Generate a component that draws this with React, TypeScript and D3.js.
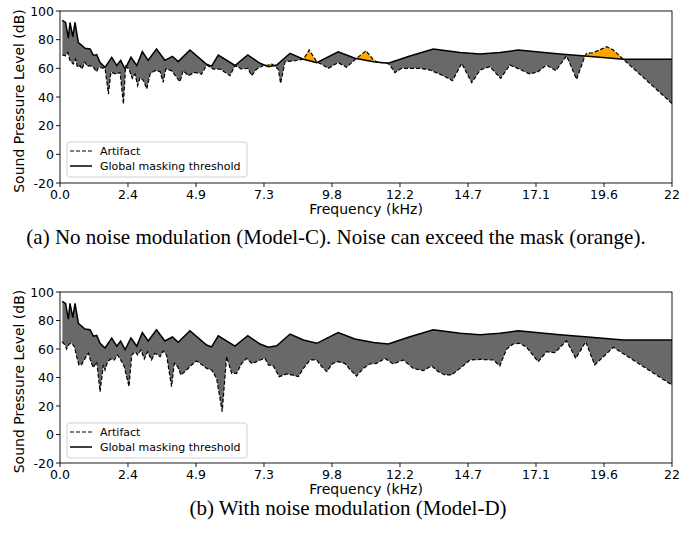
import React from "react";
import * as d3 from "d3";

// Frequency tick positions (kHz) and labels
const xTickValues = [0, 2.444, 4.889, 7.333, 9.778, 12.222, 14.667, 17.111, 19.556, 22];
const xTickLabels = ["0.0", "2.4", "4.9", "7.3", "9.8", "12.2", "14.7", "17.1", "19.6", "22"];
const yTickValues = [-20, 0, 20, 40, 60, 80, 100];

// Global masking threshold (kHz, dB) — shared by both panels
const threshold: [number, number][] = [
  [0.08, 93.5], [0.2, 92], [0.3, 81], [0.36, 92], [0.46, 82], [0.54, 92], [0.66, 78],
  [0.78, 76], [0.9, 74], [1.08, 73.5], [1.2, 69], [1.32, 69.5], [1.44, 64], [1.62, 60.7],
  [1.86, 67.7], [2.04, 62], [2.18, 65.5], [2.34, 59.5], [2.55, 67.7], [2.76, 62],
  [2.96, 71.6], [3.17, 65.6], [3.47, 73.5], [3.77, 65.6], [4.04, 68.4], [4.25, 64.7],
  [4.67, 72.8], [5.27, 62.8], [5.45, 61.5], [5.69, 69.3], [6.29, 62], [6.75, 69.3],
  [7.19, 63.5], [7.49, 61.2], [7.79, 62.3], [8.27, 70.5], [8.75, 66.3], [9.23, 64],
  [10.0, 71.6], [10.6, 67], [11.27, 64.6], [11.8, 63.5], [12.58, 68.6], [13.42, 73.5],
  [14.38, 71], [15.1, 70], [15.81, 71], [16.47, 72.8], [17.97, 70], [18.87, 68.6],
  [20.25, 66.3], [22.0, 66.3],
];

// Artifact, panel (a): Model-C
const artifactC: [number, number][] = [
  [0.08, 69.3], [0.2, 68.8], [0.28, 71], [0.36, 65.3], [0.48, 63], [0.56, 66.5],
  [0.63, 60.7], [0.72, 61.9], [0.78, 59.5], [0.9, 64.2], [0.98, 61.4], [1.08, 61.9],
  [1.2, 60.7], [1.32, 57.7], [1.38, 60.7], [1.62, 60], [1.74, 42], [1.83, 57.2],
  [2.04, 56], [2.16, 57.2], [2.28, 35.1], [2.36, 61.5], [2.48, 59.5], [2.6, 53],
  [2.7, 56], [2.79, 48], [2.88, 53.7], [3.0, 51.4], [3.12, 45.6], [3.24, 56],
  [3.41, 58.4], [3.6, 57.7], [3.71, 50.2], [3.8, 59.5], [4.01, 58.4], [4.19, 53.7],
  [4.31, 50.7], [4.43, 58.4], [4.61, 54.9], [4.85, 57.2], [5.09, 56], [5.27, 62.3],
  [5.51, 59.5], [5.75, 59.5], [5.93, 57.2], [6.11, 54.9], [6.29, 61.9], [6.53, 59.5],
  [6.75, 60], [6.89, 54.9], [7.07, 59.5], [7.31, 62], [7.49, 62.3], [7.6, 63.2],
  [7.73, 61.2], [7.85, 59.3], [7.93, 49.5], [8.09, 64.6], [8.45, 65.3], [8.75, 66.3],
  [8.96, 72.8], [9.23, 64.6], [9.65, 60], [10.0, 64], [10.3, 60.7], [10.66, 67],
  [11.0, 72.3], [11.27, 65.8], [11.44, 64], [11.74, 64], [11.86, 62.3], [12.04, 57],
  [12.28, 60], [12.58, 60], [12.94, 60], [13.3, 58.8], [13.72, 55.4], [14.11, 51.4],
  [14.44, 63.5], [14.8, 50], [15.1, 58.8], [15.45, 61.2], [15.84, 53], [16.17, 62.3],
  [16.53, 59.3], [16.89, 56], [17.19, 57.7], [17.49, 62.3], [17.82, 58.4], [18.21, 68.6],
  [18.57, 52.3], [18.87, 68.6], [18.93, 70.5], [19.17, 70.9], [19.65, 75.1],
  [19.89, 72.8], [20.25, 66.3], [22.0, 35.5],
];

// Artifact, panel (b): Model-D
const artifactD: [number, number][] = [
  [0.08, 65.1], [0.16, 63.3], [0.24, 60], [0.32, 63.3], [0.42, 64], [0.52, 61.6],
  [0.6, 54.6], [0.68, 48.8], [0.78, 49.2], [0.9, 53.4], [1.02, 57], [1.11, 51.1],
  [1.2, 46.9], [1.32, 51.1], [1.44, 30], [1.56, 48.8], [1.62, 45.3], [1.71, 51.1],
  [1.83, 53], [1.95, 52.3], [2.07, 55.8], [2.22, 51.1], [2.31, 47.6], [2.48, 33.6],
  [2.58, 55.8], [2.7, 58.1], [2.79, 55.8], [2.91, 59.3], [3.03, 53], [3.15, 58.1],
  [3.29, 52.3], [3.41, 57], [3.6, 54.6], [3.71, 58.6], [3.83, 55.8], [4.01, 33.6],
  [4.11, 49.9], [4.23, 47.6], [4.35, 41.7], [4.55, 45.3], [4.73, 48.8], [4.91, 51.6],
  [5.09, 49.2], [5.27, 46.4], [5.45, 45.3], [5.63, 39.4], [5.83, 16], [5.99, 54.6],
  [6.17, 42.9], [6.35, 42.9], [6.53, 49.9], [6.71, 53.4], [6.89, 49.9], [7.01, 50.6],
  [7.19, 52.3], [7.37, 53.4], [7.49, 48.8], [7.67, 48.1], [7.88, 40.6], [8.15, 42.5],
  [8.33, 41.8], [8.57, 40.6], [8.75, 46.4], [8.99, 52.3], [9.23, 52.3], [9.41, 47.6],
  [9.59, 44.1], [9.8, 49.9], [10.0, 51.1], [10.24, 49.9], [10.42, 45.7], [10.66, 41],
  [10.9, 46.4], [11.14, 49.5], [11.38, 49.9], [11.68, 53.4], [11.98, 49.5], [12.34, 52.3],
  [12.7, 46.4], [13.06, 44.8], [13.36, 48.1], [13.6, 44.1], [13.84, 41.8], [14.08, 41.8],
  [14.38, 46.4], [14.74, 52.3], [15.1, 52.7], [15.58, 52.3], [15.81, 48.1], [16.05, 59.8],
  [16.29, 63.5], [16.53, 64], [16.77, 61.2], [17.19, 51.1], [17.49, 58.1], [17.79, 57.4],
  [18.21, 65.8], [18.54, 53.4], [18.9, 65.1], [19.22, 48.8], [19.89, 61.2], [22.0, 34.7],
];

const captionA = "(a) No noise modulation (Model-C). Noise can exceed the mask (orange).";
const captionB = "(b) With noise modulation (Model-D)";

const FONT = "DejaVu Sans, sans-serif";
const LEFT = 60;
const RIGHT = 672;

function Panel({ id, top, bottom, artifact, caption, captionX, captionY }: any) {
  const x = d3.scaleLinear().domain([0, 22]).range([LEFT, RIGHT]);
  const y = d3.scaleLinear().domain([-20, 100]).range([bottom, top]);
  const line = d3.line<[number, number]>().x((d) => x(d[0])).y((d) => y(d[1]));
  const areaTo = (edge: number) =>
    d3.area<[number, number]>().x((d) => x(d[0])).y0(edge).y1((d) => y(d[1]));

  const belowThr = areaTo(bottom)(threshold) || "";
  const aboveThr = areaTo(top)(threshold) || "";
  const aboveArt = areaTo(top)(artifact) || "";
  const belowArt = areaTo(bottom)(artifact) || "";

  const legTop = top + 131;
  return (
    <g>
      <defs>
        <clipPath id={`${id}-belowThr`}>
          <path d={belowThr} />
        </clipPath>
        <clipPath id={`${id}-aboveThr`}>
          <path d={aboveThr} />
        </clipPath>
      </defs>
      <path d={aboveArt} fill="#696969" clipPath={`url(#${id}-belowThr)`} />
      <path d={belowArt} fill="#FFA500" clipPath={`url(#${id}-aboveThr)`} />
      <path d={line(artifact) || ""} fill="none" stroke="#000" strokeWidth={1.2} strokeDasharray="4,2" />
      <path d={line(threshold) || ""} fill="none" stroke="#000" strokeWidth={1.5} />

      {/* frame */}
      <rect x={LEFT} y={top} width={RIGHT - LEFT} height={bottom - top} fill="none" stroke="#000" strokeWidth={0.9} />

      {/* x ticks */}
      {xTickValues.map((v, i) => (
        <g key={`x${i}`}>
          <line x1={x(v)} x2={x(v)} y1={bottom} y2={bottom + 4} stroke="#000" strokeWidth={0.9} />
          <text x={x(v)} y={bottom + 16} textAnchor="middle" fontFamily={FONT} fontSize={12.5}>
            {xTickLabels[i]}
          </text>
        </g>
      ))}
      {/* y ticks */}
      {yTickValues.map((v) => (
        <g key={`y${v}`}>
          <line x1={LEFT - 4} x2={LEFT} y1={y(v)} y2={y(v)} stroke="#000" strokeWidth={0.9} />
          <text x={LEFT - 6} y={y(v) + 4.5} textAnchor="end" fontFamily={FONT} fontSize={12.5}>
            {v}
          </text>
        </g>
      ))}
      <text x={366} y={bottom + 31} textAnchor="middle" fontFamily={FONT} fontSize={14}>
        Frequency (kHz)
      </text>
      <text
        transform={`translate(24,${(top + bottom) / 2 + 4}) rotate(-90)`}
        textAnchor="middle"
        fontFamily={FONT}
        fontSize={14}
      >
        Sound Pressure Level (dB)
      </text>

      {/* legend */}
      <rect x={67} y={legTop} width={180} height={35} rx={3} fill="#fff" fillOpacity={0.8} stroke="#ccc" strokeWidth={0.9} />
      <line x1={70} x2={92} y1={legTop + 9} y2={legTop + 9} stroke="#000" strokeWidth={1.2} strokeDasharray="4,2" />
      <text x={100} y={legTop + 13} fontFamily={FONT} fontSize={11}>Artifact</text>
      <line x1={70} x2={92} y1={legTop + 24} y2={legTop + 24} stroke="#000" strokeWidth={1.5} />
      <text x={100} y={legTop + 28} fontFamily={FONT} fontSize={11}>Global masking threshold</text>

      <text x={captionX} y={captionY} textAnchor="middle" fontFamily="Liberation Serif, Times New Roman, serif" fontSize={21}>
        {caption}
      </text>
    </g>
  );
}

export default function App() {
  return (
    <svg
      width={697}
      height={537}
      style={{ position: "absolute", left: 0, top: 0, background: "#fff" }}
    >
      <rect width={697} height={537} fill="#fff" />
      <Panel id="pa" top={11} bottom={183} artifact={artifactC} caption={captionA} captionX={336} captionY={244} />
      <Panel id="pb" top={292} bottom={463} artifact={artifactD} caption={captionB} captionX={348} captionY={515} />
    </svg>
  );
}
